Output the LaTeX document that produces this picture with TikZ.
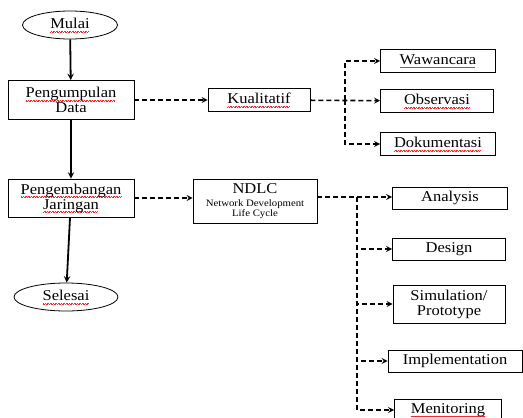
\documentclass[tikz,border=0pt]{standalone}
\usepackage{fontspec}
\setmainfont{Liberation Serif}[FakeStretch=1.1]
\usepackage{tikz}
\usetikzlibrary{shapes.geometric}
% red wavy spell-check mark made of tiny rules
\newcommand\wavebit{\hbox{\rule[-3.3pt]{0.8pt}{0.3pt}\rule[-2.7pt]{0.8pt}{0.3pt}}}
\newcommand\spell[1]{\setbox0\hbox{#1}\leavevmode
  \rlap{\hbox to\wd0{\color{red!85}\leaders\wavebit\hfill}}\box0}
\newcommand\ndlcsmall{\fontsize{9.8}{10}\selectfont}
\tikzset{
  stepbox/.style={draw, line width=0.8pt, rectangle, align=center, inner sep=0pt,
    minimum height=23, font=\fontsize{15}{15}\selectfont},
  term/.style={draw, line width=0.8pt, ellipse, inner sep=0pt,
    font=\fontsize{15}{15}\selectfont},
  flow/.style={->, line width=1.8pt},
  dasharr/.style={->, line width=1.6pt, dash pattern=on 5pt off 3pt},
}
\begin{document}
\begin{tikzpicture}[x=1pt, y=-1pt, >=stealth]
  \clip (0,0) rectangle (523,418);
  \fill[white] (0,0) rectangle (523,418);
  % main flow
  \node[term, minimum width=95, minimum height=28] (mulai) at (70,25) {\spell{Mulai}};
  \node[stepbox, minimum width=126, minimum height=39] (kumpul) at (71,100) {\spell{Pengumpulan}\\Data};
  \node[stepbox, minimum width=126, minimum height=38] (kembang) at (71,198) {\spell{Pengembangan}\\\spell{Jaringan}};
  \node[term, minimum width=104, minimum height=28] (selesai) at (66,297) {\spell{Selesai}};
  \draw[flow] (mulai) -- (kumpul);
  \draw[flow] (kumpul) -- (kembang);
  \draw[flow] (kembang) -- (selesai);
  % data collection
  \node[stepbox, minimum width=102] (kual) at (259,100) {\spell{Kualitatif}};
  \node[stepbox, minimum width=115] (wawan) at (438,61) {\spell{Wawancara}};
  \node[stepbox, minimum width=113] (obs) at (437,101) {\spell{Observasi}};
  \node[stepbox, minimum width=115] (dok) at (438,144) {\spell{Dokumentasi}};
  \coordinate (b1) at (345,100);
  \draw[dasharr] (kumpul) -- (kual);
  \draw[dasharr] (kual) -- (obs);
  \draw[dasharr] (b1) |- (wawan);
  \draw[dasharr] (b1) |- (dok);
  % NDLC
  \node[stepbox, minimum width=124, minimum height=44] (ndlc) at (255,201)
    {NDLC\\[-2pt]{\ndlcsmall Network Development}\\[-5pt]{\ndlcsmall Life Cycle}};
  \node[stepbox, minimum width=115, minimum height=22] (analysis) at (450,198) {Analysis};
  \node[stepbox, minimum width=113, minimum height=22] (design) at (449,249) {Design};
  \node[stepbox, minimum width=112, minimum height=38] (sim) at (449,304) {Simulation/\\Prototype};
  \node[stepbox, minimum width=134, minimum height=22] (impl) at (455,361) {Implementation};
  \node[stepbox, minimum width=107, minimum height=22] (moni) at (448,410) {\spell{Menitoring}};
  \coordinate (b2) at (357,197);
  \draw[dasharr] (kembang) -- (ndlc.west |- kembang);
  \draw[dasharr] (ndlc.east |- b2) -- (analysis.west |- b2);
  \draw[dasharr] (b2) |- (design);
  \draw[dasharr] (b2) |- (sim);
  \draw[dasharr] (b2) |- (impl);
  \draw[dasharr] (b2) |- (moni);
\end{tikzpicture}
\end{document}
